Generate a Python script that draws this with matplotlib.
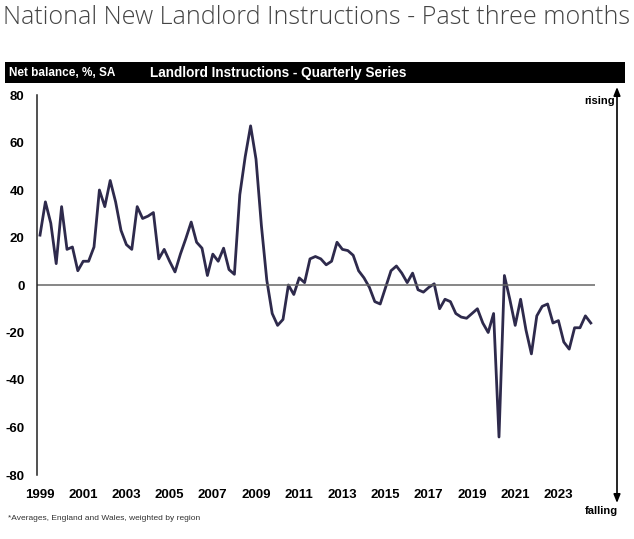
import numpy as np
import matplotlib
matplotlib.use("Agg")
import matplotlib.pyplot as plt
from matplotlib.patches import Rectangle

# quarterly net balance, 1999 Q1 .. 2024 Q3
balance = [21, 35, 26, 9, 33, 15, 16, 6,
           10, 10, 16, 40, 33, 44, 35, 23,
           17, 15, 33, 28, 29, 30.5, 11, 15,
           10, 5.5, 13, 19.5, 26.5, 18, 15.5, 4,
           13, 10, 15.5, 6.5, 4.5, 38, 54, 67,
           53, 25, 2, -12, -17, -14.5, 0, -4,
           3, 1, 11, 12, 11, 8.5, 10, 18,
           15, 14.5, 12.5, 6, 3, -1, -7, -8,
           -1, 6, 8, 5, 1, 5, -2, -3,
           -1, 0.5, -10, -6, -7, -12, -13.5, -14,
           -12, -10, -16, -20, -12, -64, 4, -6,
           -17, -6, -19, -29, -13, -9, -8, -16,
           -15, -24, -27, -18, -18, -13, -16]
year_labels = [str(y) for y in range(1999, 2024, 2)]
y_ticks = [80, 60, 40, 20, 0, -20, -40, -60, -80]

W, H = 634, 539
fig = plt.figure(figsize=(W / 100, H / 100), dpi=100)

ax = fig.add_axes([37 / W, (H - 475) / H, (595 - 37) / W, 380 / H])
x = np.arange(len(balance))
ax.plot(x, balance, color="#2e2a4c", lw=2.0, solid_joinstyle="round")
ax.axhline(0, color="#666666", lw=1.1)

ax.set_ylim(-80, 80)
ax.set_xlim(-3 / 5.4, 555 / 5.4)
ax.set_yticks(y_ticks)
ax.set_yticklabels([str(v) for v in y_ticks], fontsize=9.5, fontweight="bold",
                   family="Liberation Sans")
ax.set_xticks(np.arange(0, len(year_labels) * 8, 8))
ax.set_xticklabels(year_labels, fontsize=9.5, fontweight="bold", family="Liberation Sans")
ax.tick_params(axis="y", length=0, pad=9)
ax.tick_params(axis="x", length=0, pad=10)
for s in ["top", "right", "bottom"]:
    ax.spines[s].set_visible(False)
ax.spines["left"].set_color("#222222")
ax.spines["left"].set_linewidth(1.1)

# title
fig.text(3 / W, 1 - 17 / H, "National New Landlord Instructions - Past three months",
         fontsize=18.1, color="#444444", family="Open Sans", fontweight="light",
         va="center", ha="left")

# black header band
fig.add_artist(Rectangle((5 / W, 1 - 83 / H), 620 / W, 21 / H,
                         transform=fig.transFigure, facecolor="black", edgecolor="none"))
fig.text(9 / W, 1 - 72.5 / H, "Net balance, %, SA", color="white", fontsize=8.5,
         fontweight="bold", family="Liberation Sans", va="center")
fig.text(150 / W, 1 - 72.5 / H, "Landlord Instructions - Quarterly Series", color="white",
         fontsize=9.8, fontweight="bold", family="Liberation Sans", va="center")

# rising / falling arrow
ax.annotate("", xy=(617, H - 87), xytext=(617, H - 503), xycoords="figure pixels",
            textcoords="figure pixels",
            arrowprops=dict(arrowstyle="<|-|>,head_length=0.5,head_width=0.2",
                            color="black", lw=1.2, shrinkA=0, shrinkB=0))
fig.text(615 / W, 1 - 101 / H, "rising", fontsize=8, fontweight="bold",
         family="Liberation Sans", ha="right", va="center")
fig.text(618 / W, 1 - 511 / H, "falling", fontsize=8, fontweight="bold",
         family="Liberation Sans", ha="right", va="center")

fig.text(8 / W, 1 - 519 / H, "*Averages, England and Wales, weighted by region",
         fontsize=6, color="#333333", family="Liberation Sans", va="center")

fig.savefig("out.png", dpi=100)
